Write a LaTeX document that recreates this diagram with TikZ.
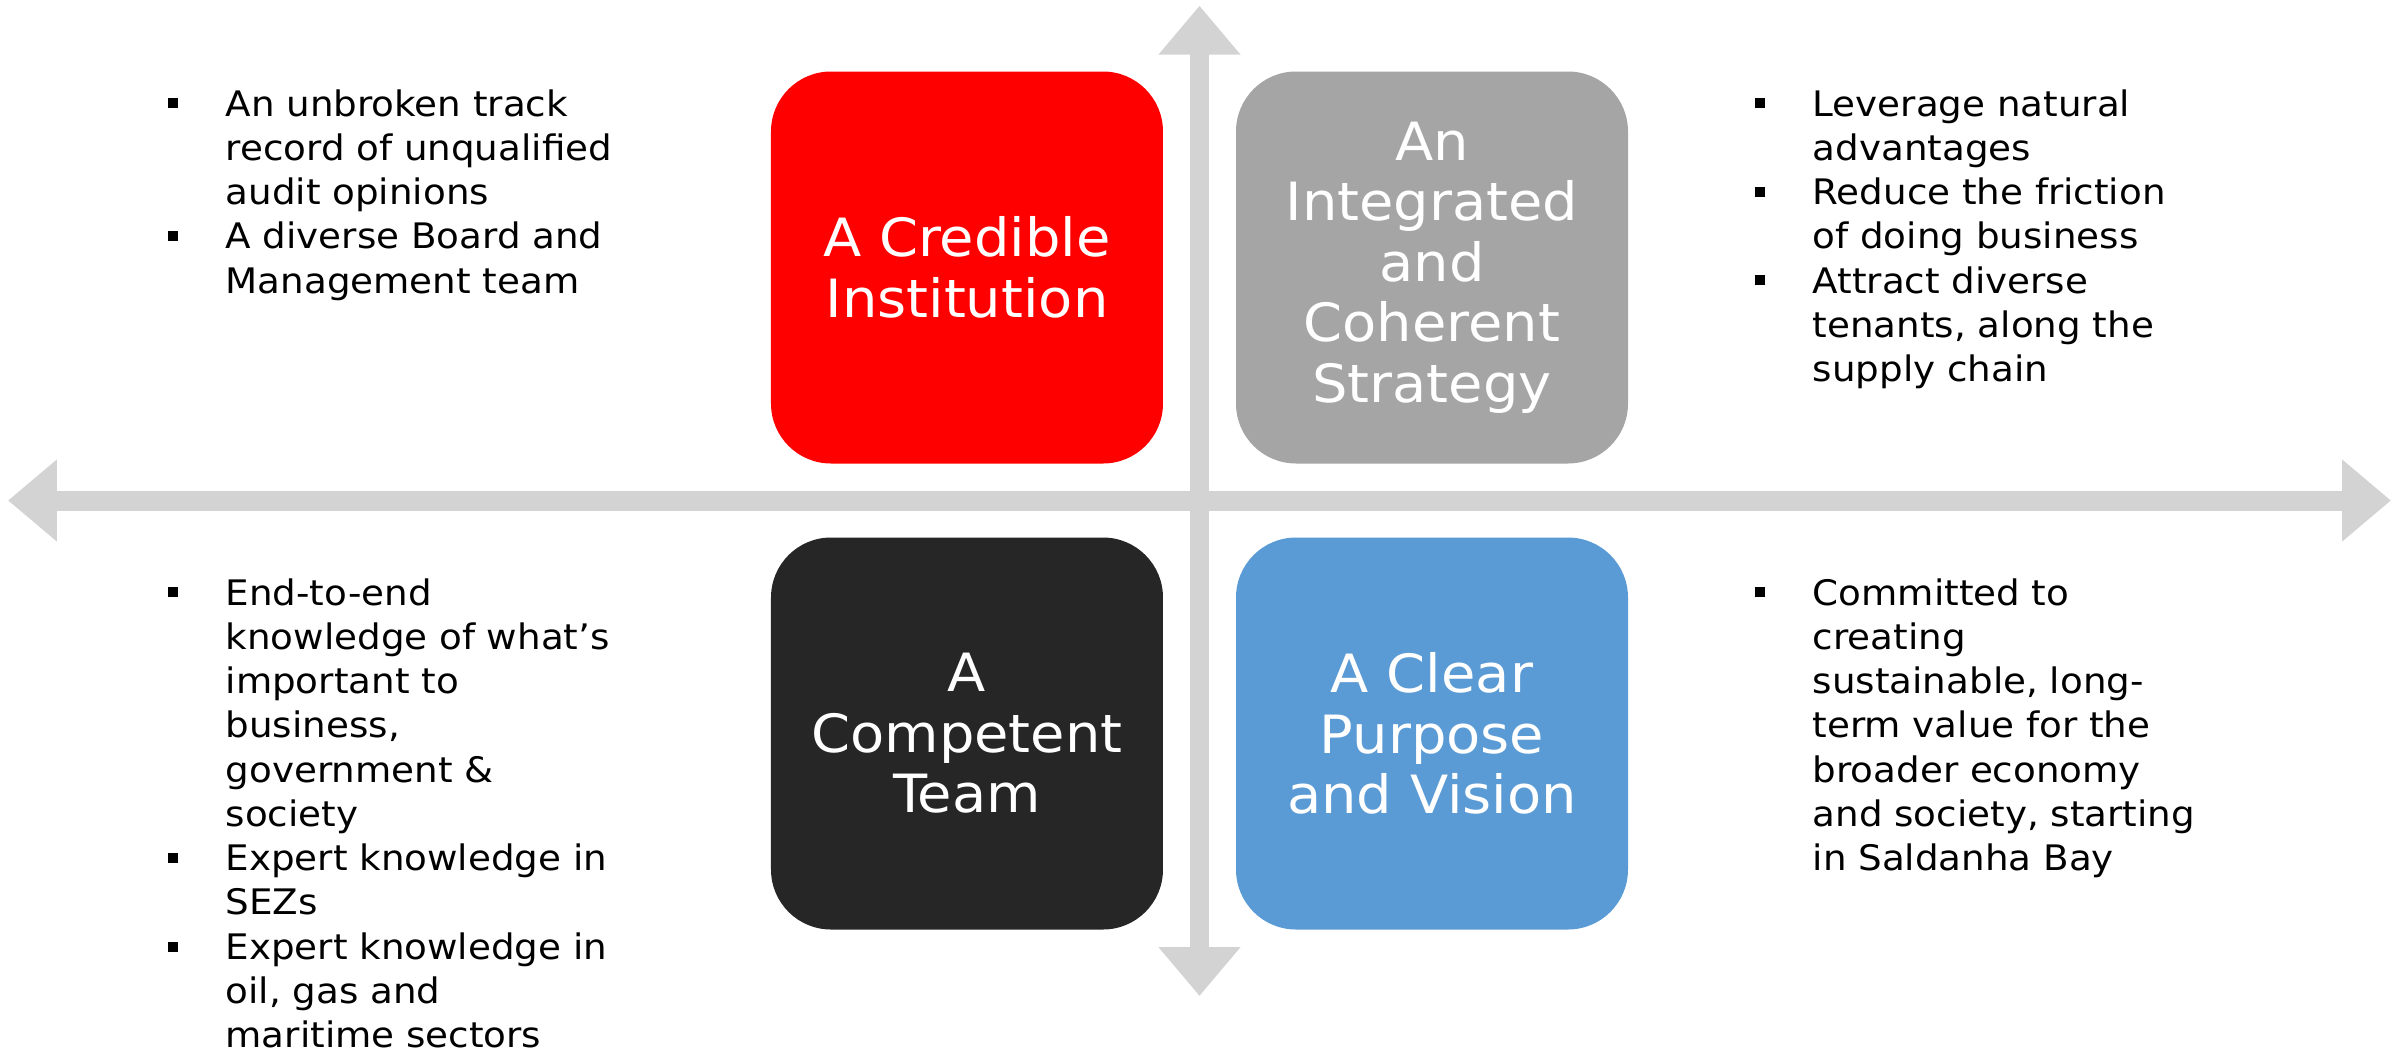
\documentclass[tikz,border=0pt]{standalone}
\usepackage{fontspec}
\setmainfont{DejaVu Sans}[FakeStretch=1.06]
\usetikzlibrary{arrows.meta}
\definecolor{credred}{HTML}{FF0000}
\definecolor{stratgray}{HTML}{A5A5A5}
\definecolor{teamblack}{HTML}{262626}
\definecolor{visionblue}{HTML}{5B9BD5}
\definecolor{axisgray}{HTML}{D3D3D3}
\newcommand{\bul}{\noindent\llap{\raisebox{0.077cm}{\rule{0.1cm}{0.1cm}}\hspace{0.48cm}}}
\begin{document}
\begin{tikzpicture}[
		quad/.style={rounded corners=0.6cm, minimum size=3.92cm, inner sep=0pt, text=white, align=center, font=\fontsize{15}{17.2}\selectfont},
		items/.style={anchor=base west, inner sep=0pt, text width=6cm, align=left, font=\fontsize{10}{12.6}\selectfont},
		axis/.style={axisgray, line width=0.2cm, {Triangle[length=0.49cm,width=0.79cm]}-{Triangle[length=0.49cm,width=0.79cm]}}]
		\useasboundingbox (-11.995,-5.555) rectangle (11.995,5.005);
		\coordinate (up) at (0,4.948);
		\coordinate (down) at (0,-4.955);
		\coordinate (west) at (-11.915,0);
		\coordinate (east) at (11.915,0);
		\draw[axis] (up) -- (down);
		\draw[axis] (west) -- (east);
		\node[quad, fill=credred] (credible) at (-2.325,2.33) {A Credible\\Institution};
		\node[quad, fill=stratgray] (strategy) at (2.325,2.33) {An\\Integrated\\and\\Coherent\\Strategy};
		\node[quad, fill=teamblack] (team) at (-2.325,-2.33) {A\\Competent\\Team};
		\node[quad, fill=visionblue] (vision) at (2.325,-2.33) {A Clear\\Purpose\\and Vision};
		\node[items] (credlist) at (-9.745,3.845) {\bul An unbroken track\\record of unqualified\\audit opinions
			\par\bul A diverse Board and\\Management team};
		\node[items] (stratlist) at (6.125,3.845) {\bul Leverage natural\\advantages
			\par\bul Reduce the friction\\of doing business
			\par\bul Attract diverse\\tenants, along the\\supply chain};
		\node[items] (teamlist) at (-9.745,-1.045) {\bul End-to-end\\knowledge of what’s\\important to\\business,\\government \&\\society
			\par\bul Expert knowledge in\\SEZs
			\par\bul Expert knowledge in\\oil, gas and\\maritime sectors};
		\node[items] (visionlist) at (6.125,-1.045) {\bul Committed to\\creating\\sustainable, long-\\term value for the\\broader economy\\and society, starting\\in Saldanha Bay};
\end{tikzpicture}
\end{document}
